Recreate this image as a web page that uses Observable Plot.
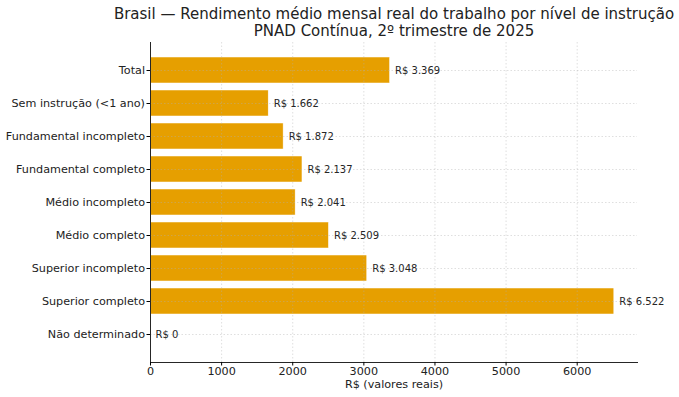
<!DOCTYPE html>
<html>
<head>
<meta charset="utf-8">
<script src="https://cdn.jsdelivr.net/npm/d3@7"></script>
<script src="https://cdn.jsdelivr.net/npm/@observablehq/plot@0.6"></script>
<style>
  html, body { margin: 0; padding: 0; background: #fff; }
  svg { font-family: "DejaVu Sans", sans-serif; }
</style>
</head>
<body>
<div id="chart"></div>
<script>
const categories = ["Total", "Sem instrução (<1 ano)", "Fundamental incompleto", "Fundamental completo", "Médio incompleto", "Médio completo", "Superior incompleto", "Superior completo", "Não determinado"];
const values = [3369, 1662, 1872, 2137, 2041, 2509, 3048, 6522, 0];
const xTicks = [0, 1000, 2000, 3000, 4000, 5000, 6000];
const titleLines = ["Brasil — Rendimento médio mensal real do trabalho por nível de instrução", "PNAD Contínua, 2º trimestre de 2025"];
const xLabel = "R$ (valores reais)";

const data = categories.map((c, i) => ({cat: c, val: values[i]}));
const fmt = v => "R$ " + d3.format(",")(v).replace(/,/g, ".");
const color = "#E69F00";

const chart = Plot.plot({
  width: 679,
  height: 397,
  marginLeft: 150,
  marginRight: 42,
  marginTop: 42,
  marginBottom: 35,
  style: {fontFamily: "DejaVu Sans, sans-serif", background: "#fff", overflow: "visible"},
  x: {domain: [0, 6848], ticks: xTicks, label: null},
  y: {domain: categories, paddingInner: 0.2, paddingOuter: 0.44, label: null},
  marks: [
    Plot.barX(data, {y: "cat", x: "val", fill: color, stroke: "#fff", strokeWidth: 0.5}),
    Plot.gridX(xTicks, {stroke: "#b0b0b0", strokeOpacity: 0.5, strokeDasharray: "1.5,2", strokeWidth: 0.8}),
    Plot.gridY(categories, {stroke: "#b0b0b0", strokeOpacity: 0.5, strokeDasharray: "1.5,2", strokeWidth: 0.8}),
    Plot.text(data, {y: "cat", x: "val", text: d => fmt(d.val), textAnchor: "start", dx: 5, fontSize: 10, fill: "#262626"}),
    Plot.ruleX([0], {stroke: "#262626", strokeWidth: 1}),
    Plot.frame({anchor: "bottom", stroke: "#262626", strokeWidth: 1}),
    Plot.axisX(xTicks, {tickSize: 3.5, tickPadding: 1, fontSize: 11.2, fill: "#222", label: null, tickFormat: d3.format("d")}),
    Plot.axisY({tickSize: 3.5, tickPadding: 2, fontSize: 11.2, fill: "#222", label: null}),
    Plot.text([xLabel], {frameAnchor: "bottom", lineAnchor: "middle", dy: 22, textAnchor: "middle", fontSize: 11.2, fill: "#222"}),
    Plot.text([titleLines[0]], {frameAnchor: "top", lineAnchor: "middle", dy: -28, textAnchor: "middle", fontSize: 15, fill: "#222"}),
    Plot.text([titleLines[1]], {frameAnchor: "top", lineAnchor: "middle", dy: -11, textAnchor: "middle", fontSize: 15, fill: "#222"})
  ]
});
document.getElementById("chart").appendChild(chart);
</script>
</body>
</html>
